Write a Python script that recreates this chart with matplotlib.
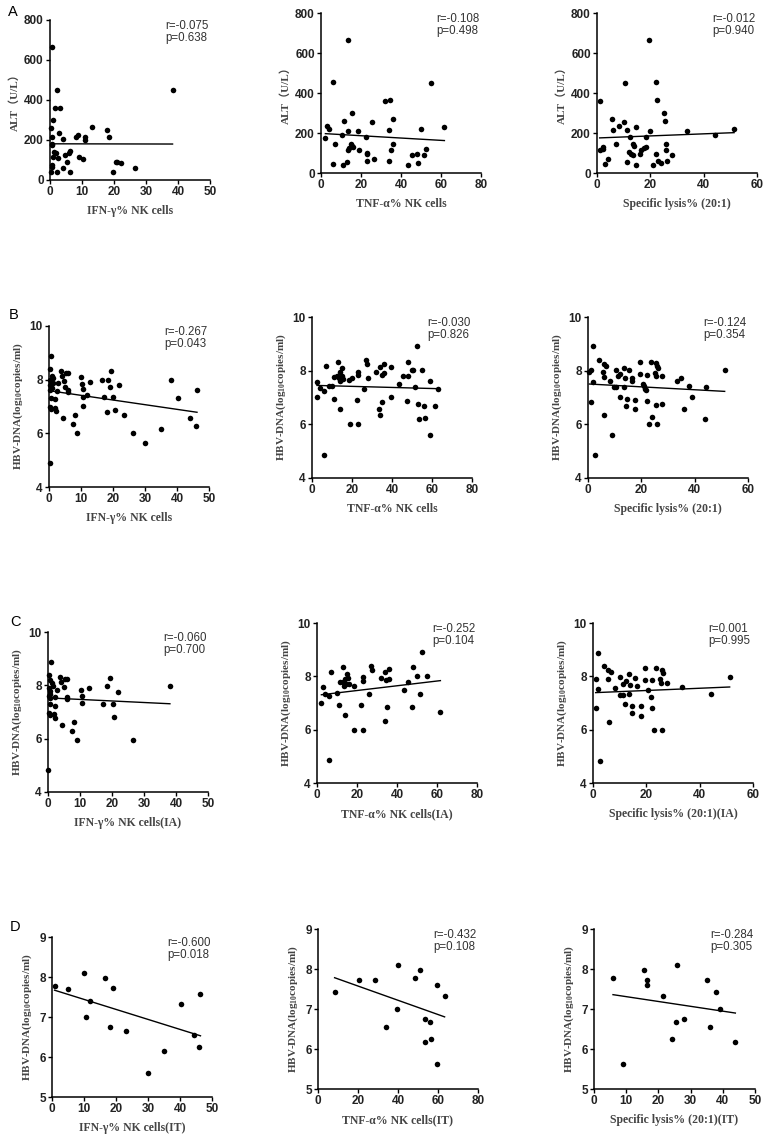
import numpy as np
import matplotlib
matplotlib.use("Agg")
import matplotlib.pyplot as plt

plt.rcParams["font.family"] = "Liberation Sans"
plt.rcParams["font.weight"] = "bold"
plt.rcParams["mathtext.fontset"] = "custom"
plt.rcParams["mathtext.rm"] = "Liberation Serif:bold"
plt.rcParams["mathtext.default"] = "regular"

# ---- row A: ALT vs NK function ----
a1_x = [0.7, 2.3, 38.3, 1.6, 3.1, 1.0, 0.2, 2.8, 4.0, 0.7, 0.7, 0.5, 8.0, 8.6, 10.9, 10.8, 13.2,
        17.7, 18.5, 1.25, 1.8, 1.0, 2.4, 4.7, 5.9, 6.3, 9.2, 10.4, 5.2, 4.2, 0.5, 0.5, 0.3, 2.1,
        6.4, 19.8, 20.6, 21.0, 22.1, 26.7]
a1_y = [663, 450, 448, 358, 358, 300, 262, 237, 207, 213, 180, 175, 217, 227, 200, 213, 267,
        252, 217, 142, 133, 117, 112, 123, 133, 145, 113, 103, 92, 62, 75, 67, 42, 38,
        38, 42, 88, 92, 87, 58]
a2_x = [13.3, 6.0, 55.0, 32.0, 34.5, 15.5, 35.8, 11.3, 25.7, 2.8, 4.0, 34.0, 50.0, 61.7, 13.3,
        18.5, 2.2, 10.3, 22.3, 7.0, 14.8, 15.3, 15.8, 14.2, 13.3, 19.0, 36.0, 35.0, 23.0, 23.0,
        52.7, 45.5, 47.8, 51.3, 26.7, 13.0, 23.0, 34.0, 5.8, 11.2, 48.3, 43.7]
a2_y = [667, 453, 450, 360, 363, 302, 272, 262, 253, 237, 218, 217, 220, 230, 208,
        208, 175, 190, 178, 147, 147, 137, 130, 125, 117, 115, 145, 113, 102, 93,
        118, 88, 95, 88, 72, 57, 62, 62, 45, 42, 48, 42]
a3_x = [19.6, 10.5, 22.1, 1.0, 22.5, 25.3, 5.75, 10.0, 25.6, 8.25, 14.5, 6.1, 11.4, 19.75, 33.75,
        51.4, 44.25, 12.25, 18.25, 1.25, 2.25, 2.1, 7.25, 13.4, 13.75, 17.75, 16.6, 18.4, 25.9,
        26.0, 12.0, 12.6, 13.5, 16.0, 22.25, 28.0, 4.1, 11.25, 22.75, 26.25, 3.0, 14.75, 21.1, 24.0]
a3_y = [667, 450, 453, 360, 363, 302, 270, 253, 262, 237, 228, 217, 217, 208, 212,
        220, 192, 178, 178, 113, 130, 118, 147, 147, 135, 125, 117, 128, 145,
        115, 105, 97, 90, 93, 95, 90, 70, 57, 62, 62, 45, 42, 42, 48]

# ---- row B: HBV-DNA vs NK function ----
b1_x = [0.7, 0.2, 0.9, 0.4, 1.35, 1.25, 0.2, 0.6, 0.4, 1.0, 2.6, 2.9, 3.6, 4.0, 4.8, 5.4, 5.9,
        5.0, 5.8, 5.9, 0.5, 2.0, 0.2, 0.6, 1.8, 2.1, 4.4, 8.0, 7.5, 8.85, 0.2, 9.9, 10.2, 10.6,
        10.6, 10.6, 11.9, 12.7, 16.7, 18.3, 19.5, 19.2, 17.2, 19.9, 18.1, 20.7, 21.9, 23.5, 26.4,
        30.0, 35.1, 38.1, 40.4, 44.2, 46.25, 45.9]
b1_y = [8.88, 8.41, 8.14, 7.97, 8.08, 7.89, 7.81, 7.72, 7.62, 7.68, 7.58, 7.87, 8.33, 8.14, 7.95,
        8.26, 8.26, 7.72, 7.53, 7.60, 7.33, 7.27, 7.00, 6.91, 6.94, 6.85, 6.58, 6.68, 6.36, 6.01,
        4.89, 8.09, 7.83, 7.64, 7.37, 7.02, 7.41, 7.93, 7.98, 8.00, 8.33, 7.73, 7.35, 7.37, 6.78,
        6.86, 7.81, 6.68, 6.01, 5.64, 6.18, 8.00, 7.33, 6.57, 7.61, 6.27]
b2_x = [2.5, 2.7, 4.0, 6.0, 6.0, 6.8, 8.7, 10.2, 11.0, 11.2, 12.5, 13.2, 13.3, 14.0, 13.8, 14.2,
        14.8, 15.0, 15.5, 18.7, 19.2, 20.2, 22.3, 23.0, 23.0, 23.0, 26.0, 26.8, 27.5, 28.0, 31.8,
        33.5, 34.0, 34.0, 34.8, 35.0, 36.0, 36.0, 39.3, 39.3, 43.7, 45.5, 48.0, 48.2, 47.7, 50.0,
        50.7, 51.5, 52.7, 53.0, 53.3, 55.0, 55.8, 56.5, 59.2, 59.2, 61.5, 63.0]
b2_y = [7.02, 7.58, 7.35, 7.25, 4.84, 8.19, 7.42, 7.42, 6.96, 7.78, 7.81, 8.32, 7.73, 7.63, 6.57,
        7.94, 8.11, 7.79, 7.69, 7.64, 6.01, 7.73, 6.89, 7.94, 7.83, 6.01, 7.33, 8.41, 8.25, 7.73,
        7.94, 6.58, 6.35, 8.14, 7.85, 6.83, 8.26, 7.91, 8.12, 7.02, 7.50, 7.79, 8.32, 7.79, 6.86,
        8.01, 8.01, 7.38, 8.91, 6.77, 6.20, 8.01, 6.68, 6.24, 5.61, 7.60, 6.68, 7.33]
b3_x = [1.0, 0.5, 1.9, 1.9, 1.1, 2.5, 4.0, 5.6, 5.9, 5.9, 6.9, 6.0, 8.1, 8.9, 10.4, 9.75, 10.6,
        11.25, 12.1, 12.0, 13.4, 13.9, 13.4, 14.4, 14.6, 15.4, 16.6, 16.5, 17.6, 17.75, 19.4,
        19.6, 20.6, 21.1, 21.4, 21.9, 22.0, 22.25, 22.75, 23.75, 24.1, 25.0, 25.4, 25.6, 25.9,
        26.25, 25.6, 25.75, 27.9, 27.9, 33.5, 35.0, 35.9, 37.75, 38.9, 44.1, 43.75, 51.25]
b3_y = [8.01, 7.94, 8.91, 7.58, 6.83, 4.84, 8.41, 7.94, 8.26, 7.78, 8.19, 6.35, 7.60, 5.61, 8.01,
        7.38, 7.38, 7.79, 7.86, 7.02, 8.10, 7.73, 7.38, 6.70, 6.94, 8.01, 7.73, 7.60, 6.89, 6.57,
        7.86, 8.32, 7.52, 7.42, 7.32, 7.27, 6.86, 7.85, 6.02, 8.32, 6.27, 7.91, 7.79, 8.29, 8.19,
        8.10, 6.71, 6.02, 7.79, 6.77, 7.63, 7.73, 6.57, 7.42, 7.02, 7.38, 6.20, 8.01]

# ---- row C: IA phase ----
c1_x = [0.9, 0.2, 0.7, 1.25, 1.5, 0.3, 0.7, 0.5, 0.3, 0.7, 0.5, 2.1, 2.8, 2.3, 3.9, 4.2, 4.9,
        5.4, 6.0, 5.9, 5.9, 0.2, 0.5, 1.8, 2.1, 4.3, 8.2, 7.5, 9.0, 0.0, 10.3, 10.5, 10.5, 12.7,
        17.2, 18.3, 19.5, 20.3, 20.7, 21.8, 26.5, 38.1]
c1_y = [8.88, 8.38, 8.19, 8.09, 7.96, 7.91, 7.78, 7.69, 7.59, 7.53, 7.29, 7.23, 7.84, 7.56, 8.31,
        8.13, 7.94, 8.25, 8.24, 7.55, 7.49, 6.96, 6.88, 6.91, 6.79, 6.53, 6.64, 6.29, 5.96, 4.81,
        7.81, 7.59, 7.34, 7.90, 7.31, 7.96, 8.29, 7.31, 6.81, 7.75, 5.96, 7.96]
c2_x = [2.2, 2.8, 3.8, 5.8, 5.8, 6.8, 10.2, 11.0, 11.3, 13.0, 13.2, 13.5, 13.8, 14.2, 14.8, 14.7,
        15.5, 16.0, 18.3, 18.5, 22.2, 23.0, 23.0, 23.0, 26.0, 26.8, 27.7, 31.8, 33.8, 34.2, 34.7,
        35.0, 36.0, 36.0, 43.5, 45.5, 48.0, 47.5, 50.0, 51.3, 52.7, 55.0, 61.7]
c2_y = [7.00, 7.60, 7.34, 7.26, 4.85, 8.18, 7.38, 6.91, 7.79, 8.34, 7.78, 7.65, 6.54, 7.91, 8.10,
        7.71, 7.93, 7.71, 7.65, 6.00, 6.91, 7.96, 7.84, 6.00, 7.34, 8.40, 8.25, 7.94, 6.34, 8.15,
        7.88, 6.84, 8.28, 7.91, 7.50, 7.79, 8.34, 6.84, 8.00, 7.35, 8.90, 8.00, 6.68]
c3_x = [1.9, 1.0, 2.0, 1.25, 2.75, 4.1, 5.75, 6.75, 5.6, 5.9, 8.25, 10.25, 10.0, 11.25, 11.25,
        12.25, 11.9, 13.5, 13.75, 13.4, 14.75, 14.5, 15.75, 16.6, 17.9, 17.9, 19.4, 19.4, 20.75,
        21.9, 22.1, 22.25, 22.75, 23.75, 25.0, 25.4, 25.9, 26.25, 25.9, 27.9, 33.5, 44.1, 51.25]
c3_y = [8.88, 7.91, 7.54, 6.81, 4.81, 8.38, 8.23, 8.16, 7.91, 6.30, 7.56, 7.98, 7.29, 7.29, 7.73,
        7.83, 6.98, 8.08, 7.69, 7.35, 6.89, 6.64, 7.94, 7.63, 6.89, 6.51, 8.33, 7.85, 7.48,
        7.23, 7.85, 6.81, 5.98, 8.31, 7.91, 7.75, 8.23, 8.13, 5.98, 7.76, 7.60, 7.35, 7.98]

# ---- row D: IT phase ----
d1_x = [0.8, 5.0, 10.0, 10.6, 12.0, 16.7, 19.2, 18.2, 23.2, 30.1, 35.1, 40.3, 44.3, 45.9, 46.4]
d1_y = [7.78, 7.71, 8.10, 6.99, 7.41, 7.98, 7.73, 6.74, 6.66, 5.60, 6.16, 7.33, 6.54, 6.25, 7.58]
d2_x = [8.3, 20.5, 28.3, 34.2, 39.8, 39.7, 48.3, 50.8, 53.3, 53.7, 56.0, 56.7, 59.3, 59.3, 63.3]
d2_y = [7.42, 7.73, 7.72, 6.55, 8.11, 7.00, 7.78, 7.98, 6.75, 6.17, 6.67, 6.25, 7.60, 5.62, 7.33]
d3_x = [5.9, 9.0, 15.6, 16.6, 16.6, 21.5, 24.3, 25.9, 25.6, 28.0, 35.2, 36.0, 37.8, 39.1, 43.9]
d3_y = [7.78, 5.62, 7.98, 7.72, 7.60, 7.33, 6.25, 8.11, 6.67, 6.75, 7.73, 6.55, 7.42, 7.00, 6.18]

# fitted lines: (intercept, slope)
fit_lines = {
    "a1": (181, -0.03), "a2": (198, -0.58), "a3": (175, 0.52),
    "b1": (7.59, -0.0174), "b2": (7.455, -0.002), "b3": (7.505, -0.0054),
    "c1": (7.53, -0.0058), "c2": (7.29, 0.0089), "c3": (7.385, 0.0042),
    "d1": (7.69, -0.025), "d2": (7.93, -0.0178), "d3": (7.43, -0.0121),
}
stats_text = {
    "a1": "r=-0.075\np=0.638", "a2": "r=-0.108\np=0.498", "a3": "r=-0.012\np=0.940",
    "b1": "r=-0.267\np=0.043", "b2": "r=-0.030\np=0.826", "b3": "r=-0.124\np=0.354",
    "c1": "r=-0.060\np=0.700", "c2": "r=-0.252\np=0.104", "c3": "r=0.001\np=0.995",
    "d1": "r=-0.600\np=0.018", "d2": "r=-0.432\np=0.108", "d3": "r=-0.284\np=0.305",
}
x_labels = {
    "a1": "IFN-γ% NK cells", "a2": "TNF-α% NK cells", "a3": "Specific lysis% (20:1)",
    "b1": "IFN-γ% NK cells", "b2": "TNF-α% NK cells", "b3": "Specific lysis% (20:1)",
    "c1": "IFN-γ% NK cells(IA)", "c2": "TNF-α% NK cells(IA)", "c3": "Specific lysis% (20:1)(IA)",
    "d1": "IFN-γ% NK cells(IT)", "d2": "TNF-α% NK cells(IT)", "d3": "Specific lysis% (20:1)(IT)",
}
hbv_label = "HBV-DNA(log$_{10}$copies/ml)"
alt_label = "ALT（U/L）"

# axes boxes in pixels: left, top, right, bottom
W, H = 767, 1135
boxes = {
    "a1": (50, 20, 210, 180), "a2": (321, 13, 481, 173), "a3": (597, 13, 757, 173),
    "b1": (49, 326, 209, 487), "b2": (312, 317, 472, 478), "b3": (588, 317, 748, 478),
    "c1": (48, 632, 208, 792), "c2": (317, 623, 477, 783), "c3": (593, 623, 753, 783),
    "d1": (52, 937, 212, 1097), "d2": (318, 929, 478, 1089), "d3": (594, 929, 755, 1089),
}
data = {
    "a1": (a1_x, a1_y), "a2": (a2_x, a2_y), "a3": (a3_x, a3_y),
    "b1": (b1_x, b1_y), "b2": (b2_x, b2_y), "b3": (b3_x, b3_y),
    "c1": (c1_x, c1_y), "c2": (c2_x, c2_y), "c3": (c3_x, c3_y),
    "d1": (d1_x, d1_y), "d2": (d2_x, d2_y), "d3": (d3_x, d3_y),
}
xmax = {"1": 50, "2": 80, "3": 60}
xstep = {"1": 10, "2": 20, "3": 20}

TICK_FONT = "Liberation Sans"
LABEL_FONT = "Liberation Serif"
LABEL_COLOR = "#444444"

fig = plt.figure(figsize=(W / 100, H / 100), dpi=100)

for key, (l, t, r, b) in boxes.items():
    ax = fig.add_axes([l / W, 1 - b / H, (r - l) / W, (b - t) / H])
    xs, ys = np.array(data[key][0]), np.array(data[key][1])
    row, col = key[0], key[1]

    ax.scatter(xs, ys, s=16, color="black", zorder=3, clip_on=False, linewidths=0)
    a, k = fit_lines[key]
    lx = np.array([xs.min(), xs.max()])
    ax.plot(lx, a + k * lx, color="black", lw=1.0)

    xm, xst = xmax[col], xstep[col]
    if key == "d3":
        xm, xst = 50, 10
    ax.set_xlim(0, xm)
    ax.set_xticks(np.arange(0, xm + 1, xst))
    if row == "a":
        ax.set_ylim(0, 800)
        ax.set_yticks([0, 200, 400, 600, 800])
        ax.set_ylabel(alt_label, family=[LABEL_FONT, "Noto Sans CJK SC"], fontweight="bold",
                      fontsize=8, color=LABEL_COLOR, labelpad=3)
    elif row == "d":
        ax.set_ylim(5, 9)
        ax.set_yticks([5, 6, 7, 8, 9])
        ax.set_ylabel(hbv_label, family=LABEL_FONT, fontweight="bold", fontsize=8,
                      color=LABEL_COLOR, labelpad=4)
    else:
        ax.set_ylim(4, 10)
        ax.set_yticks([4, 6, 8, 10])
        ax.set_ylabel(hbv_label, family=LABEL_FONT, fontweight="bold", fontsize=8,
                      color=LABEL_COLOR, labelpad=3)
    ax.set_xlabel(x_labels[key], family=LABEL_FONT, fontweight="bold", fontsize=8.5,
                  color=LABEL_COLOR, labelpad=5)

    for s in ["top", "right"]:
        ax.spines[s].set_visible(False)
    for s in ["left", "bottom"]:
        ax.spines[s].set_linewidth(1.1)
    ax.tick_params(direction="out", length=3, width=1, pad=1.5, labelsize=8.5,
                   labelcolor="#222222")

    ax.text(0.72, 1.0, stats_text[key], transform=ax.transAxes, va="top", ha="left",
            family=TICK_FONT, fontweight="normal", fontsize=8.3, color="#333333",
            linespacing=1.0)

# panel letters
for letter, (px, py) in {"A": (8, 12), "B": (9, 315), "C": (10, 622), "D": (10, 927)}.items():
    fig.text(px / W, 1 - py / H, letter, family=TICK_FONT, fontweight="normal",
             fontsize=10.5, va="center", ha="left")

plt.savefig("out.png", dpi=100)
plt.close()
